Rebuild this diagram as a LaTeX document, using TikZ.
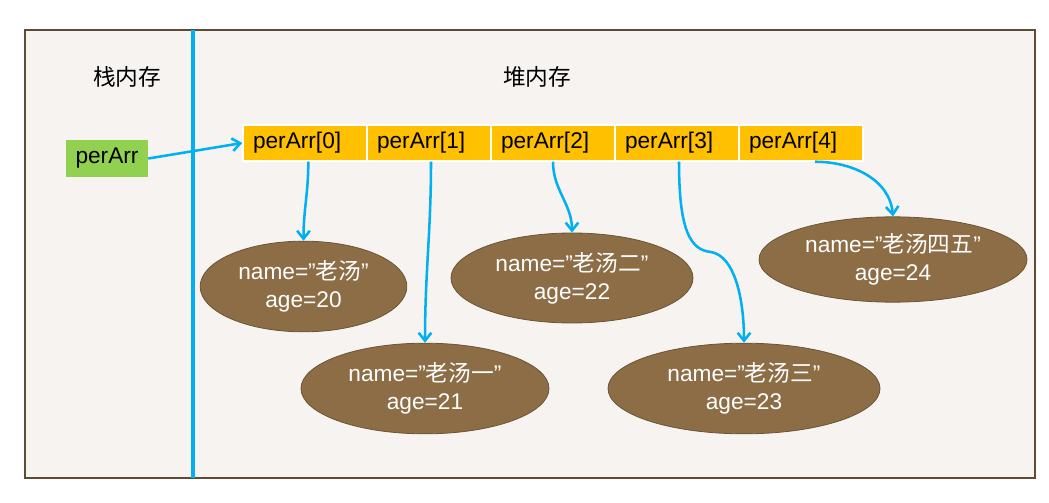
\documentclass[tikz,border=0pt]{standalone}
\usepackage{xcolor}
\usepackage{fontspec}
\setmainfont{Liberation Sans}
\newfontfamily\cjk{Noto Sans CJK SC}
\usepackage{tikz}
\usetikzlibrary{arrows.meta, positioning, shapes.geometric}
\definecolor{bgcream}{HTML}{F6F3F0}
\definecolor{framebrown}{HTML}{5E4B33}
\definecolor{refblue}{HTML}{00B0F0}
\definecolor{cellgold}{HTML}{FFC000}
\definecolor{stackgreen}{HTML}{92D050}
\definecolor{objbrown}{HTML}{8C6D46}
\definecolor{objedge}{HTML}{6B5535}
\tikzset{
	cell/.style={fill=cellgold, draw=white, line width=1.1pt, minimum height=27pt, text width=78pt, inner xsep=7.5pt, align=left},
	obj/.style={ellipse, fill=objbrown, draw=objedge, line width=0.6pt, text=white, align=center, inner sep=0pt},
	ref/.style={->, draw=refblue, line width=1.9pt}
}
\begin{document}
\begin{tikzpicture}[x=0.75pt, y=-0.75pt,
				>={Straight Barb[length=6pt, width=9.5pt]},
				font=\fontsize{17pt}{21pt}\selectfont]
				\useasboundingbox (0,0) rectangle (1049,503);
				\draw[framebrown, fill=bgcream, line width=0.9pt] (25,30) rectangle (1035,478);
				\draw[refblue, line width=2.4pt] (193,30) -- (193,478);
				\node at (127,77) (stack) {\cjk 栈内存};
				\node at (537,77) (heap) {\cjk 堆内存};
				\node at (107,158.5) (p) [fill=stackgreen, minimum width=61.5pt, minimum height=27.75pt, inner sep=0pt] {perArr};
				\node at (305,143) (c0) [cell] {perArr[0]};
				\node at (429,143) (c1) [cell] {perArr[1]};
				\node at (553,143) (c2) [cell] {perArr[2]};
				\node at (677,143) (c3) [cell] {perArr[3]};
				\node at (801,143) (c4) [cell] {perArr[4]};
				\node at (303.5,286.5) (e0) [obj, minimum width=155pt, minimum height=68pt] {name=”{\cjk 老汤}”\\age=20};
				\node at (425,388.5) (e1) [obj, minimum width=186pt, minimum height=68pt] {name=”{\cjk 老汤一}”\\age=21};
				\node at (572,278) (e2) [obj, minimum width=181.5pt, minimum height=67.5pt] {name=”{\cjk 老汤二}”\\age=22};
				\node at (744,388.5) (e3) [obj, minimum width=204pt, minimum height=68pt] {name=”{\cjk 老汤三}”\\age=23};
				\node at (893,259.5) (e4) [obj, minimum width=201pt, minimum height=64pt] {name=”{\cjk 老汤四五}”\\age=24};
				\draw[ref] (p.east) -- (c0.west);
				\draw[ref] ([xshift=2.5pt]c0.south) to[out=-90, in=90] (e0.north);
				\draw[ref] ([xshift=1.5pt]c1.south) to[out=-90, in=90] (e1.north);
				\draw[ref] (c2.south) to[out=-90, in=90] (e2.north);
				\draw[ref] ([xshift=1.5pt]c3.south) .. controls (679,230) and (690,250) .. (711,252) .. controls (735,256) and (744,300) .. (e3.north);
				\draw[ref] ([xshift=10.5pt]c4.south) to[out=0, in=95] (e4.north);
			\end{tikzpicture}
\end{document}
